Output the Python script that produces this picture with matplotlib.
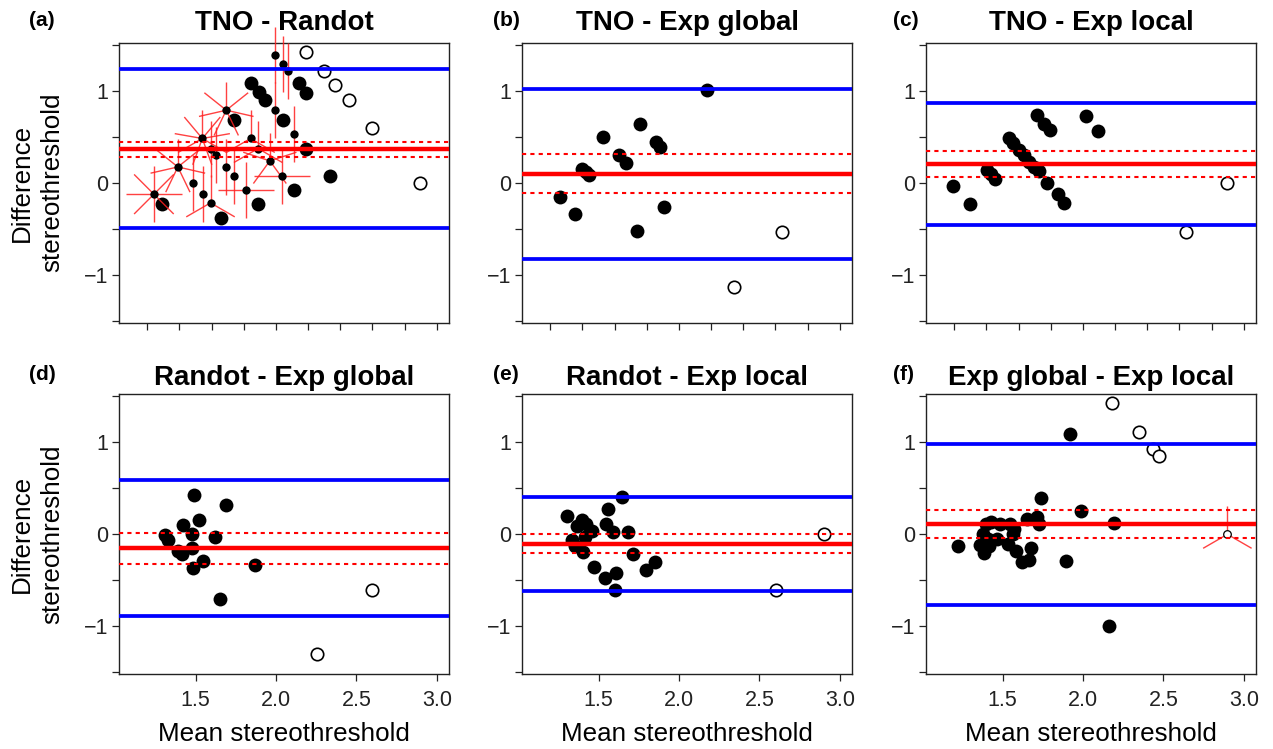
import numpy as np
import matplotlib
matplotlib.use("Agg")
import matplotlib.pyplot as plt
from matplotlib.collections import LineCollection

plt.rcParams["font.family"] = ["Liberation Sans", "DejaVu Sans"]

titles = ["TNO - Randot", "TNO - Exp global", "TNO - Exp local",
          "Randot - Exp global", "Randot - Exp local", "Exp global - Exp local"]
tags = ["(a)", "(b)", "(c)", "(d)", "(e)", "(f)"]

# (a) TNO - Randot
a_fill_x = [1.293, 1.661, 1.889, 2.115, 2.339, 2.189, 2.042, 1.738, 1.842, 1.893, 1.931, 2.146, 2.189]
a_fill_y = [-0.226, -0.378, -0.226, -0.081, 0.074, 0.371, 0.686, 0.686, 1.083, 0.985, 0.903, 1.083, 0.979]
a_open_x = [2.189, 2.301, 2.370, 2.452, 2.597, 2.898]
a_open_y = [1.42, 1.21, 1.058, 0.903, 0.599, 0.0]
a_sun_x = [1.241, 1.390, 1.542, 1.691, 1.962, 2.039, 1.842, 1.889, 1.738, 1.691, 1.630,
           1.593, 1.483, 1.545, 1.593, 1.815, 1.991, 2.042, 2.076, 1.991, 2.115]
a_sun_y = [-0.125, 0.171, 0.48, 0.787, 0.237, 0.074, 0.48, 0.371, 0.074, 0.171, 0.306,
           0.371, 0.0, -0.125, -0.219, -0.074, 1.384, 1.29, 1.21, 0.787, 0.534]
a_sun_n = [8, 7, 9, 7, 5, 4, 3, 3, 2, 2, 2, 2, 2, 2, 3, 4, 2, 2, 2, 2, 2]
a_lines = [0.364, 0.28, 0.447, -0.494, 1.232]  # bias, ci low, ci high, loa low, loa high

# (b) TNO - Exp global
b_fill_x = [1.258, 1.353, 1.399, 1.420, 1.440, 1.527, 1.630, 1.668, 1.757, 1.740, 1.858, 1.885, 1.906, 2.175]
b_fill_y = [-0.154, -0.345, 0.154, 0.118, 0.081, 0.497, 0.298, 0.215, 0.635, -0.526, 0.443, 0.389, -0.262, 1.011]
b_open_x = [2.341, 2.641]
b_open_y = [-1.137, -0.534]
b_lines = [0.092, -0.117, 0.309, -0.827, 1.02]

# (c) TNO - Exp local
c_fill_x = [1.191, 1.295, 1.403, 1.427, 1.454, 1.541, 1.568, 1.603, 1.634, 1.665, 1.693, 1.724,
            1.717, 1.758, 1.794, 1.775, 1.842, 1.883, 2.019, 2.096]
c_fill_y = [-0.038, -0.233, 0.136, 0.092, 0.035, 0.48, 0.432, 0.353, 0.298, 0.226, 0.171, 0.125,
            0.733, 0.635, 0.577, 0.0, -0.128, -0.215, 0.722, 0.559]
c_open_x = [2.643, 2.898]
c_open_y = [-0.534, 0.0]
c_lines = [0.204, 0.063, 0.342, -0.461, 0.866]

# (d) Randot - Exp global
d_fill_x = [1.490, 1.689, 1.521, 1.424, 1.309, 1.330, 1.475, 1.618, 1.393, 1.414, 1.475,
            1.545, 1.483, 1.868, 1.649]
d_fill_y = [0.428, 0.323, 0.158, 0.105, -0.011, -0.057, 0.008, -0.029, -0.183, -0.219, -0.154,
            -0.291, -0.37, -0.334, -0.7]
d_open_x = [2.256, 2.598]
d_open_y = [-1.304, -0.603]
d_lines = [-0.154, -0.323, 0.014, -0.887, 0.593]

# (e) Randot - Exp local
e_fill_x = [1.305, 1.363, 1.398, 1.423, 1.460, 1.335, 1.355, 1.403, 1.413, 1.473, 1.561,
            1.545, 1.592, 1.644, 1.681, 1.712, 1.539, 1.610, 1.605, 1.794, 1.851]
e_fill_y = [0.194, 0.089, 0.158, 0.115, 0.036, -0.065, -0.129, -0.197, -0.029, -0.352, 0.277,
            0.115, 0.025, 0.402, 0.025, -0.219, -0.478, -0.424, -0.603, -0.388, -0.298]
e_open_x = [2.602, 2.902]
e_open_y = [-0.603, 0.0]
e_lines = [-0.1, -0.201, 0.007, -0.611, 0.409]

# (f) Exp global - Exp local
f_fill_x = [1.220, 1.396, 1.427, 1.485, 1.547, 1.572, 1.376, 1.407, 1.465, 1.361, 1.417,
            1.386, 1.531, 1.583, 1.562, 1.655, 1.717, 1.724, 1.680, 1.624, 1.665, 1.742,
            1.986, 1.895, 2.193, 1.918, 2.162]
f_fill_y = [-0.126, 0.115, 0.133, 0.115, 0.108, 0.061, 0.0, -0.047, -0.054, -0.111, -0.129,
            -0.208, -0.1, -0.18, 0.0, 0.169, 0.186, 0.108, -0.154, -0.298, -0.28, 0.395,
            0.251, -0.291, 0.126, 1.092, -0.999]
f_open_x = [2.183, 2.349, 2.438, 2.473]
f_open_y = [1.426, 1.11, 0.923, 0.851]
f_sun_x = [2.898]
f_sun_y = [0.0]
f_sun_n = [3]
f_lines = [0.115, -0.036, 0.259, -0.773, 0.984]

panels = [
    (a_fill_x, a_fill_y, a_open_x, a_open_y, (a_sun_x, a_sun_y, a_sun_n), a_lines),
    (b_fill_x, b_fill_y, b_open_x, b_open_y, None, b_lines),
    (c_fill_x, c_fill_y, c_open_x, c_open_y, None, c_lines),
    (d_fill_x, d_fill_y, d_open_x, d_open_y, None, d_lines),
    (e_fill_x, e_fill_y, e_open_x, e_open_y, None, e_lines),
    (f_fill_x, f_fill_y, f_open_x, f_open_y, (f_sun_x, f_sun_y, f_sun_n), f_lines),
]

W, H = 1273, 749
fig = plt.figure(figsize=(W / 100, H / 100), dpi=100)
XLIM = (1.024, 3.076)
YLIM = (-1.52, 1.52)
lefts = [119, 522, 926]
tops = [42.7, 394.3]
aw, ah = 330, 280
petal_in = 0.28

for i, (fx, fy, ox, oy, sun, lines) in enumerate(panels):
    row, col = divmod(i, 3)
    ax = fig.add_axes([lefts[col] / W, (H - tops[row] - ah) / H, aw / W, ah / H])
    ax.set_xlim(XLIM)
    ax.set_ylim(YLIM)

    ax.scatter(fx, fy, s=100, color="black", zorder=2, linewidths=0)
    ax.scatter(ox, oy, s=80, facecolor="white", edgecolor="black", linewidths=1.2, zorder=2)

    if sun is not None:
        sx, sy, sn = sun
        xr = petal_in * (XLIM[1] - XLIM[0]) / (aw / 100)
        yr = petal_in * (YLIM[1] - YLIM[0]) / (ah / 100)
        segs = []
        for x0, y0, n in zip(sx, sy, sn):
            for k in range(1, n + 1):
                ang = 2 * np.pi * k / n
                segs.append([(x0, y0), (x0 + xr * np.sin(ang), y0 + yr * np.cos(ang))])
        ax.add_collection(LineCollection(segs, colors="#ff2020", linewidths=1.0,
                                         alpha=0.85, zorder=3, clip_on=False))
        if i == 5:
            ax.scatter(sx, sy, s=30, facecolor="white", edgecolor="black", linewidths=0.9, zorder=4)
        else:
            ax.scatter(sx, sy, s=36, color="black", linewidths=0, zorder=4)

    bias, lo, hi, loa_lo, loa_hi = lines
    ax.axhline(bias, color="#ff0000", lw=3.2, zorder=5)
    for v in (lo, hi):
        ax.axhline(v, color="#ff0000", lw=1.5, ls=(0, (2, 2)), zorder=5)
    for v in (loa_lo, loa_hi):
        ax.axhline(v, color="#0000ff", lw=2.7, zorder=5)

    ax.set_yticks(np.arange(-1.5, 1.51, 0.5))
    ax.set_yticklabels(["", "\u22121", "", "0", "", "1", ""])
    if row == 0:
        ax.set_xticks(np.arange(1.2, 3.01, 0.2))
        ax.set_xticklabels([])
        ax.set_title(titles[i], fontsize=20, fontweight="bold", pad=9)
    else:
        ax.set_xticks([1.5, 2.0, 2.5, 3.0])
        ax.set_xticklabels(["1.5", "2.0", "2.5", "3.0"])
        ax.set_title(titles[i], fontsize=20, fontweight="bold", pad=6.7)
        ax.set_xlabel("Mean stereothreshold", fontsize=18.7, labelpad=8)
    ax.tick_params(axis="both", direction="out", length=5, width=0.9, labelsize=15.5,
                   colors="#222222")
    ax.tick_params(axis="x", pad=6)
    ax.tick_params(axis="y", pad=3)
    for sp in ax.spines.values():
        sp.set_linewidth(1.0)
        sp.set_color("#222222")

    tag_x = [29, 493, 893][col]
    tag_y = [26, 380][row]
    fig.text(tag_x / W, 1 - tag_y / H, tags[i], fontsize=15, fontweight="bold",
             va="baseline", ha="left")

    if col == 0:
        fig.text(37 / W, 1 - (tops[row] + ah / 2) / H, "Difference\nstereothreshold",
                 rotation=90, fontsize=18.7, ha="center", va="center", linespacing=1.3)

fig.savefig("out.png", dpi=100)
